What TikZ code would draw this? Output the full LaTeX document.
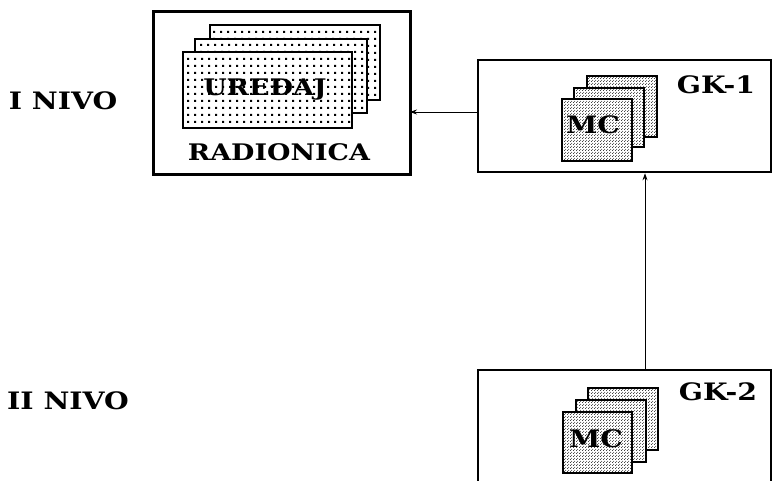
\documentclass[tikz,border=0pt]{standalone}
\usepackage{fontspec}
\setmainfont{DejaVu Serif}[FakeStretch=1.18]
\usetikzlibrary{arrows.meta,patterns.meta}
\tikzdeclarepattern{
  name=griddots,
  type=uncolored,
  bounding box={(0pt,0pt) and (6.6pt,6.6pt)},
  tile size={(6.6pt,6.6pt)},
  code={\fill (2.3pt,2.3pt) rectangle (4.3pt,4.3pt);}
}
\tikzdeclarepattern{
  name=finedots,
  type=uncolored,
  bounding box={(0pt,0pt) and (3pt,3pt)},
  tile size={(3pt,3pt)},
  code={\fill (0.75pt,0.75pt) circle (0.65pt); \fill (2.25pt,2.25pt) circle (0.65pt);}
}
\tikzset{
  bigbox/.style={draw, line width=2.6pt},
  sheet/.style={draw, line width=1.6pt, preaction={fill=white}, pattern=griddots},
  mcsheet/.style={draw, line width=1.5pt, preaction={fill=white}, pattern=finedots},
  lbl/.style={font=\bfseries\fontsize{24}{24}\selectfont, inner sep=0pt},
  lblsm/.style={font=\bfseries\fontsize{22.8}{23}\selectfont, inner sep=0pt},
  arr/.style={line width=0.9pt, -{Stealth[length=7pt,width=5pt]}}
}
\begin{document}
\begin{tikzpicture}[x=1pt,y=-1pt]
\clip (0,0) rectangle (773,481);
\fill[white] (0,0) rectangle (773,481);
% level labels
\node[lbl] (n1) at (63,101) {I NIVO};
\node[lbl] (n2) at (68,401) {II NIVO};
% RADIONICA box
\draw[bigbox, line width=3pt] (153,12) rectangle (410,175);
\coordinate (radE) at (410,112);
\draw[sheet] (210,25) rectangle (380,100);
\draw[sheet] (195,39) rectangle (367,113);
\draw[sheet] (183,52) rectangle (352,128);
\node[lblsm] (ured) at (265,90) {UREĐAJ};
\node[lblsm] (radi) at (279,152) {RADIONICA};
% GK-1 box
\node[bigbox, minimum width=293pt, minimum height=112pt, inner sep=0pt] (gk1) at (624.5,116) {};
\draw[mcsheet] (587,76) rectangle (657,137);
\draw[mcsheet] (574,88) rectangle (644,147);
\draw[mcsheet] (562,99) rectangle (632,161);
\node[lbl] (mc1) at (593,125) {MC};
\node[lbl] (g1) at (716,85) {GK-1};
% GK-2 box
\node[bigbox, minimum width=293pt, minimum height=130pt, inner sep=0pt] (gk2) at (624.5,435) {};
\draw[mcsheet] (588,388) rectangle (658,450);
\draw[mcsheet] (576,400) rectangle (646,462);
\draw[mcsheet] (563,412) rectangle (632,473);
\node[lbl] (mc2) at (596,439) {MC};
\node[lbl] (g2) at (718,392) {GK-2};
% connectors
\coordinate (h) at (0,112);
\coordinate (v) at (645,0);
\draw[arr] (gk1.west |- h) -- (radE);
\draw[arr] (gk2.north -| v) -- (gk1.south -| v);
\end{tikzpicture}
\end{document}
